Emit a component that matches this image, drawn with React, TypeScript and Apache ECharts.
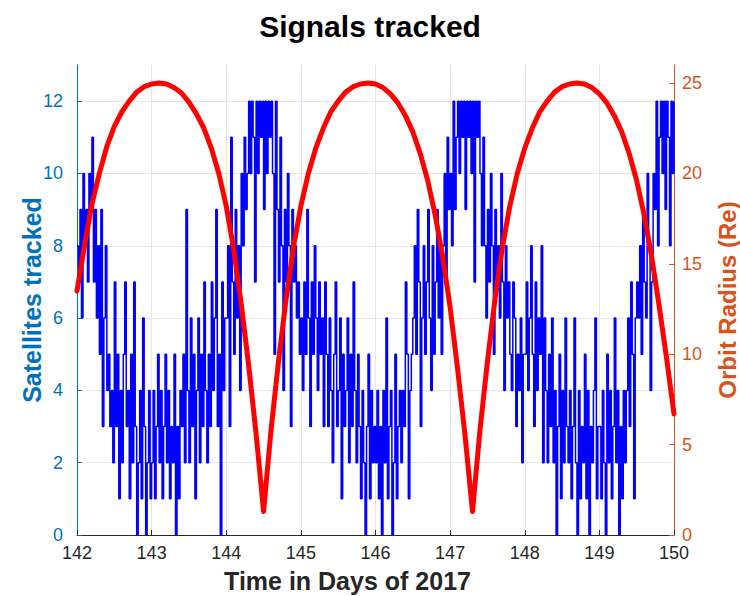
import React, { useEffect, useRef } from "react";
import * as echarts from "echarts";

const FONT = "'Liberation Sans', Arial, Helvetica, sans-serif";

const titleText = "Signals tracked";
const xName = "Time in Days of 2017";
const leftName = "Satellites tracked";
const rightName = "Orbit Radius (Re)";

const xTicks = [142, 143, 144, 145, 146, 147, 148, 149, 150];
const leftTicks = [0, 2, 4, 6, 8, 10, 12];
const rightTicks = [0, 5, 10, 15, 20, 25];

// Satellites tracked, sampled every 0.02 day starting at day 142
const satStart = 142;
const satStep = 0.02;
const satDay142 = [8,7,9,6,10,8,9,7,10,9, 11,7,9,6,8, 5,9,3,6,8,4, 5,3,4,2,7,3,5,1,4,2,5,7,3,4,1,5,2,7, 3,0,2,4,1,6,3,0,2,4, 1];
const satDay143 = [2,4,1,3,5,2,4,1,3,5,2,4,1,3,2,5,0,3,1,4, 3,5,2,9,4,2,6,3,5,1,4,6,2,5,3,7,4,2, 5,3,7,4,6,9,3,5,0,7,4,6];
const satDay144 = [6,8,3,11,7,5,9,6,8,4, 10,8,11,9,10, 12,10,12,11,7,12,10,12,11,12,9,12,10,12,11,12,10,5,12, 9,7,11,8,4,9,7,10,8,3,9,7,8,6, 7,5];
const satDay145 = [6,4,7,5,9,6,3,7,5,8,6,4,7,5,6,3,7, 5,3,6,4,2,5,7,3,4,6,1,5,3,4,6,2,5,3,7,4,2,5, 3,1,4,2,0,3,5,1,4,2,3];
const satDay146 = [2,4,1,3,0,4,2,6,1,3,4,0,2,5,1,3,4,2, 4,3,7,5,1,4,5, 6,8,5,9,7,3,6,8,5,7,9,6,4,8,5,7,9,6,8,5, 8,10,7,11,9];
const satDay147 = [10,8,12,9,11, 12,10,12,11,12,9,12,11,12,10,12,7,12,11,12, 10,8,11, 8,6,9,7,10,8,5,9,7,8,6,10,7,4,8,6,7, 5,4,7,6,3,5,4,6,2,5];
const satDay148 = [5,7,4,6,8,5,3,7,4,6,5,8,2,6, 4,2,5,3,6,2,4,0,3,5,1,4,2,6,3, 2,4,1,3,6,2,0,4,1,3,2,5,1,4,0,3,2,4,6,1,3];
const satDay149 = [3,1,4,2,0,5,2,4,1,3,6,2,4,0,3,1,4,2, 4,6,3,7,5,1,6, 7,6,8,5,9,7,6,10,8,4,7, 10,9,12,8,11,12,10,12,9,12,11,8,12,10,12];

// Orbit radius (Re), every 0.1 day starting at day 142
const radiusStart = 142;
const radiusStep = 0.1;
const radiusValues = [
  13.5, 16.0, 18.3, 20.0, 21.5, 22.6, 23.4, 24.0, 24.5, 24.8,
  24.95, 25.0, 24.95, 24.75, 24.45, 23.95, 23.3, 22.5, 21.4, 20.0,
  18.2, 15.8, 12.8, 9.4, 5.6, 1.3, 5.8, 9.6, 13.0, 15.9,
  18.2, 20.0, 21.4, 22.5, 23.4, 24.0, 24.5, 24.8, 24.95, 25.0,
  24.95, 24.75, 24.4, 23.9, 23.2, 22.3, 21.1, 19.6, 17.7, 15.4,
  12.6, 9.2, 5.5, 1.3, 5.8, 9.6, 13.0, 15.9, 18.2, 20.0,
  21.4, 22.5, 23.4, 24.0, 24.5, 24.8, 24.95, 25.0, 24.95, 24.75,
  24.4, 23.9, 23.2, 22.3, 21.1, 19.6, 17.7, 15.4, 12.7, 9.8,
  6.7,
];

const satValues = [
  ...satDay142, ...satDay143, ...satDay144, ...satDay145,
  ...satDay146, ...satDay147, ...satDay148, ...satDay149,
];

export default function App() {
  const ref = useRef<HTMLDivElement>(null);
  useEffect(() => {
    if (!ref.current) return;
    const chart = echarts.init(ref.current, undefined, { renderer: "svg" });
    const satData = satValues.map((v, i) => [+(satStart + i * satStep).toFixed(2), v]);
    const radData = radiusValues.map((v, i) => [+(radiusStart + i * radiusStep).toFixed(1), v]);
    const blue = "#0072BD";
    const orange = "#D95319";
    const dark = "#262626";
    chart.setOption({
      animation: false,
      backgroundColor: "#ffffff",
      title: {
        text: titleText,
        left: "center",
        top: 6,
        textStyle: { fontFamily: FONT, fontSize: 30, fontWeight: "bold", color: "#000" },
      },
      grid: { left: 77, right: 66, top: 65, bottom: 61, containLabel: false, outerBoundsMode: "none" },
      xAxis: {
        type: "value",
        min: 142,
        max: 150,
        interval: 1,
        name: xName,
        nameLocation: "middle",
        nameGap: 33,
        nameMoveOverlap: false,
        nameTextStyle: { fontFamily: FONT, fontSize: 25, fontWeight: "bold", color: dark, padding: [0, 56, 0, 0] },
        axisLine: { show: true, onZero: false, lineStyle: { color: dark, width: 1 } },
        axisTick: { show: true, inside: true, length: 5, lineStyle: { color: dark } },
        axisLabel: { fontFamily: FONT, fontSize: 18, color: dark, margin: 9, customValues: xTicks, formatter: (v: number) => String(v) },
        splitLine: { show: true, lineStyle: { color: "#e6e6e6", width: 1 } },
      },
      yAxis: [
        {
          type: "value",
          position: "left",
          min: 0,
          max: 13,
          name: leftName,
          nameLocation: "middle",
          nameGap: 33,
          nameMoveOverlap: false,
          nameTextStyle: { fontFamily: FONT, fontSize: 25, fontWeight: "bold", color: blue },
          axisLine: { show: true, lineStyle: { color: blue, width: 1 } },
          axisTick: { show: true, inside: true, length: 5, customValues: leftTicks, lineStyle: { color: blue } },
          axisLabel: { fontFamily: FONT, fontSize: 18, color: blue, margin: 14, customValues: leftTicks },
          splitLine: { show: true, lineStyle: { color: "#e6e6e6", width: 1 } },
        },
        {
          type: "value",
          position: "right",
          min: 0,
          max: 26,
          name: rightName,
          nameLocation: "middle",
          nameGap: 41,
          nameMoveOverlap: false,
          nameTextStyle: { fontFamily: FONT, fontSize: 24, fontWeight: "bold", color: orange },
          axisLine: { show: true, lineStyle: { color: orange, width: 1 } },
          axisTick: { show: true, inside: true, length: 5, customValues: rightTicks, lineStyle: { color: orange } },
          axisLabel: { fontFamily: FONT, fontSize: 18, color: orange, margin: 8, customValues: rightTicks },
          splitLine: { show: false },
        },
      ],
      series: [
        {
          name: leftName,
          type: "line",
          yAxisIndex: 0,
          data: satData,
          step: "end",
          symbol: "none",
          lineStyle: { color: "#0000ff", width: 1.5 },
          z: 2,
        },
        {
          name: rightName,
          type: "line",
          yAxisIndex: 1,
          data: radData,
          symbol: "none",
          lineStyle: { color: "#ff0000", width: 5, cap: "round", join: "round" },
          z: 3,
        },
      ],
    });
    return () => chart.dispose();
  }, []);
  return (
    <div
      ref={ref}
      style={{ position: "fixed", left: 0, top: 0, width: 740, height: 596, background: "#fff" }}
    />
  );
}
